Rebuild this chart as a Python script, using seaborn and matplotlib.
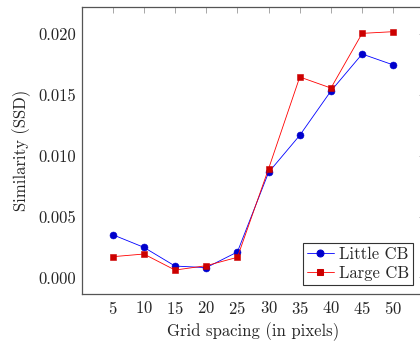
import seaborn as sns
import matplotlib.pyplot as plt
import pandas as pd
from matplotlib.ticker import FormatStrFormatter

grid = [5, 10, 15, 20, 25, 30, 35, 40, 45, 50]
little_cb = [0.00351, 0.00247, 0.00093, 0.00080, 0.00209, 0.00864,
             0.01169, 0.01534, 0.01838, 0.01748]
large_cb = [0.00170, 0.00192, 0.00060, 0.00096, 0.00165, 0.00894,
            0.01649, 0.01558, 0.02008, 0.02022]
series = ['Little CB', 'Large CB']

data = pd.DataFrame({
    'x': grid * 2,
    'series': [series[0]] * len(grid) + [series[1]] * len(grid),
    'value': little_cb + large_cb,
})

sns.set_style('white')
plt.rcParams['font.family'] = ['cmr10', 'DejaVu Serif']
plt.rcParams['mathtext.fontset'] = 'cm'
plt.rcParams['axes.formatter.use_mathtext'] = True

fig = plt.figure(figsize=(4.2, 3.47), dpi=100)
ax = fig.add_axes([81.5 / 420, 53 / 347, (424.5 - 81.5) / 420, (294 - 7) / 347])

line_cols = {'Little CB': '#0000ff', 'Large CB': '#ff0000'}
mark_cols = {'Little CB': '#0000cc', 'Large CB': '#cc0000'}
sns.lineplot(data=data, x='x', y='value', hue='series', style='series',
             palette=line_cols, markers={'Little CB': 'o', 'Large CB': 's'},
             dashes=False, linewidth=0.6, markersize=5, ax=ax)

for ln, name in zip(ax.lines[:2], series):
    ln.set_markerfacecolor(mark_cols[name])
    ln.set_markeredgecolor(mark_cols[name])
    ln.set_markeredgewidth(0.4)

ax.set_xlim(0, 55)
ax.set_ylim(-0.00137, 0.02225)
ax.set_xticks(grid)
ax.set_yticks([0.0, 0.005, 0.010, 0.015, 0.020])
ax.yaxis.set_major_formatter(FormatStrFormatter('%.3f'))
ax.tick_params(direction='in', length=4, width=0.6, color='#999999',
               top=True, right=True, labelsize=12, pad=4)
for sp in ax.spines.values():
    sp.set_color('#555555')
    sp.set_linewidth(0.9)

ax.set_xlabel('Grid spacing (in pixels)', fontsize=12, labelpad=4)
ax.set_ylabel('Similarity (SSD)', fontsize=12, labelpad=5)

leg = ax.legend(loc='lower right', bbox_to_anchor=((413 - 81.5) / 343, 9 / 287),
                fontsize=12, frameon=True, fancybox=False, framealpha=1,
                edgecolor='#333333', borderpad=0.25, labelspacing=0.2,
                handlelength=1.6, handletextpad=0.3, borderaxespad=0)
leg.get_frame().set_linewidth(0.8)
for h, name in zip(leg.legend_handles, series):
    h.set_markerfacecolor(mark_cols[name])
    h.set_markeredgecolor(mark_cols[name])

fig.savefig('out.png', dpi=100)
